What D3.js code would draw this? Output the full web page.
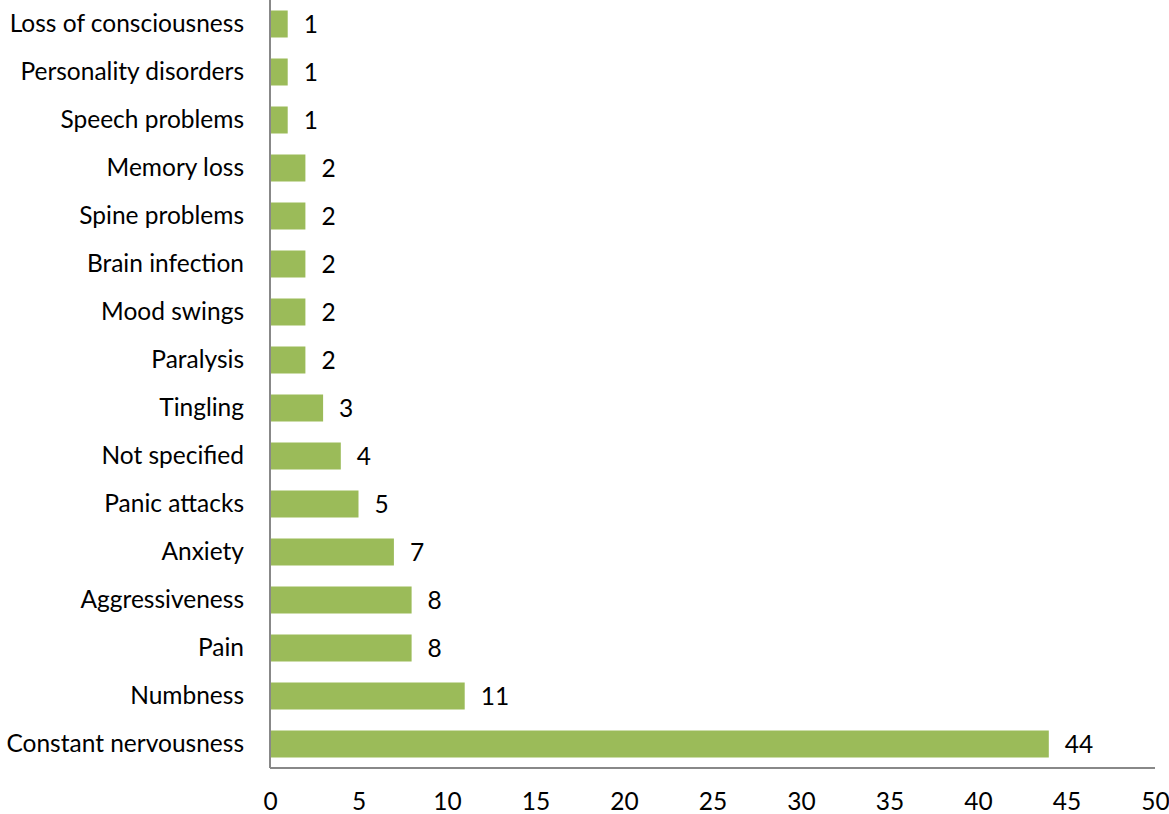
<!DOCTYPE html>
<html>
<head>
<meta charset="utf-8">
<script src="https://cdn.jsdelivr.net/npm/d3@7"></script>
<style>
  html, body { margin: 0; padding: 0; background: #fff; }
  svg text { font-family: Lato, "Open Sans", sans-serif; fill: #000; }
</style>
</head>
<body>
<svg id="chart" width="1169" height="814"></svg>
<script>
// Reported symptoms, listed top to bottom
const categories = [
  "Loss of consciousness", "Personality disorders", "Speech problems",
  "Memory loss", "Spine problems", "Brain infection", "Mood swings",
  "Paralysis", "Tingling", "Not specified", "Panic attacks", "Anxiety",
  "Aggressiveness", "Pain", "Numbness", "Constant nervousness"
];
const counts = [1, 1, 1, 2, 2, 2, 2, 2, 3, 4, 5, 7, 8, 8, 11, 44];
const xTicks = [0, 5, 10, 15, 20, 25, 30, 35, 40, 45, 50];

const fontSize = 24.5;
const svg = d3.select("#chart");
const plot = { left: 270, right: 1155, top: 0, bottom: 768 };

const x = d3.scaleLinear().domain([0, 50]).range([plot.left, plot.right]);
const y = d3.scaleBand().domain(categories).range([plot.top, plot.bottom])
  .paddingInner(0.4375).paddingOuter(0.21875);

// Bars
svg.append("g").selectAll("rect")
  .data(categories)
  .join("rect")
  .attr("x", x(0))
  .attr("y", d => y(d))
  .attr("width", (d, i) => x(counts[i]) - x(0))
  .attr("height", y.bandwidth())
  .attr("fill", "#9bbb59");

// Value labels
svg.append("g").selectAll("text")
  .data(categories)
  .join("text")
  .attr("x", (d, i) => x(counts[i]) + 16)
  .attr("y", d => y(d) + y.bandwidth() / 2)
  .attr("dy", "0.35em")
  .attr("font-size", fontSize)
  .text((d, i) => counts[i]);

// Category axis
const yAxis = svg.append("g")
  .attr("transform", `translate(${plot.left},0)`)
  .call(d3.axisLeft(y).tickSize(0).tickPadding(26));
yAxis.select(".domain").attr("stroke", "#888").attr("stroke-width", 2)
  .attr("d", `M0,${plot.top}V${plot.bottom}`);
yAxis.selectAll("text").attr("font-size", fontSize).attr("font-family", "Lato, 'Open Sans', sans-serif");

// Value axis
const xAxis = svg.append("g")
  .attr("transform", `translate(0,${plot.bottom})`)
  .call(d3.axisBottom(x).tickValues(xTicks).tickSize(0).tickPadding(25));
xAxis.select(".domain").attr("stroke", "#888").attr("stroke-width", 2)
  .attr("d", `M${plot.left},0H${plot.right}`);
xAxis.selectAll("text").attr("font-size", fontSize).attr("font-family", "Lato, 'Open Sans', sans-serif");
</script>
</body>
</html>
